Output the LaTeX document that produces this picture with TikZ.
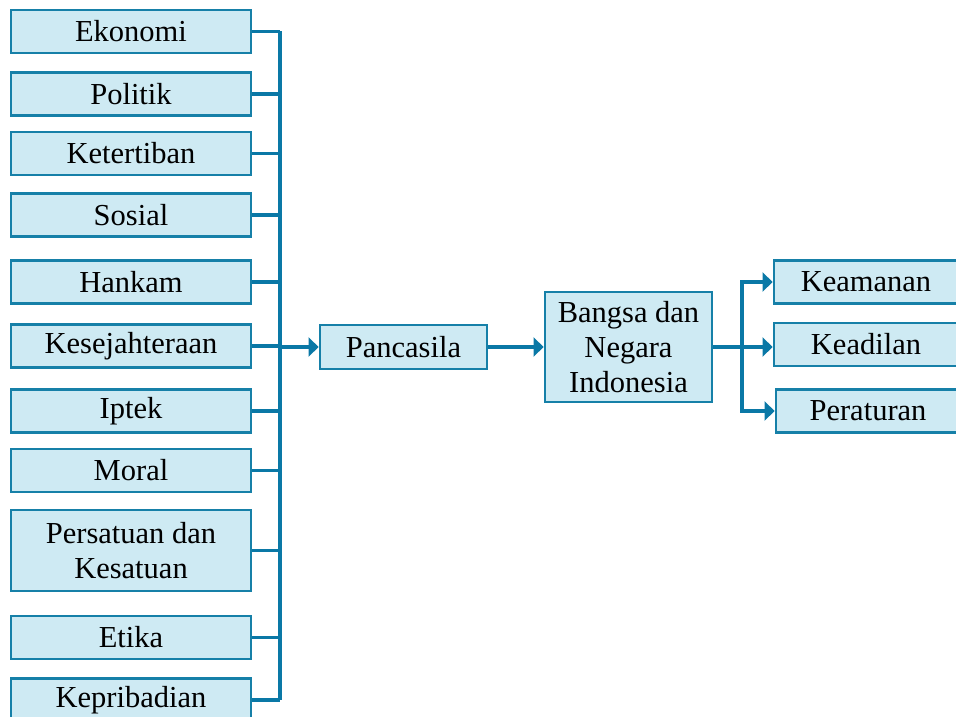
\documentclass[tikz,border=0pt]{standalone}
\usepackage{fontspec}
\setmainfont{Liberation Serif}
\usepackage{tikz}
\usetikzlibrary{arrows.meta}
\definecolor{boxfill}{RGB}{206,234,243}
\definecolor{boxline}{RGB}{22,128,168}
\definecolor{wire}{RGB}{10,120,166}

\begin{document}
\begin{tikzpicture}[x=1pt,y=-1pt,
  box/.style={draw=boxline,fill=boxfill,line width=2.8pt,inner sep=0pt,
    align=center,font=\fontsize{30.5}{35}\selectfont},
  lbox/.style={box,minimum width=240pt,minimum height=43pt},
  rbox/.style={box,minimum width=184pt,minimum height=43pt},
  link/.style={draw=wire,line width=3.5pt},
  tip/.style={link,-{Triangle[length=10pt,width=19pt]}}]
\useasboundingbox (0,0) rectangle (956,717);
\node[lbox] (ekonomi) at (131,31.5) {Ekonomi};
\node[lbox] (politik) at (131,94) {Politik};
\node[lbox] (ketertiban) at (131,153.5) {Ketertiban};
\node[lbox] (sosial) at (131,215) {Sosial};
\node[lbox] (hankam) at (131,282) {Hankam};
\node[lbox] (kesejahteraan) at (131,346) {Kesejahteraan};
\node[lbox] (iptek) at (131,411) {Iptek};
\node[lbox] (moral) at (131,470.5) {Moral};
\node[lbox,minimum height=81pt] (persatuan) at (131,550.5) {Persatuan dan\\Kesatuan};
\node[lbox] (etika) at (131,637.5) {Etika};
\node[lbox] (kepribadian) at (131,700) {Kepribadian};
\node[box,minimum width=167pt,minimum height=44pt] (pancasila) at (403.5,347) {Pancasila};
\node[box,minimum width=167pt,minimum height=110pt] (bangsa) at (628.5,347) {Bangsa dan\\Negara\\Indonesia};
\node[rbox] (keamanan) at (866,282) {Keamanan};
\node[rbox] (keadilan) at (866,344.5) {Keadilan};
\node[rbox] (peraturan) at (868,411) {Peraturan};
\coordinate (bus) at (280,0);
\coordinate (split) at (742,347);
\foreach \n in {ekonomi,politik,ketertiban,sosial,hankam,kesejahteraan,iptek,moral,persatuan,etika,kepribadian}
  \draw[link] (\n.east) -- (\n.east -| bus);
\draw[link] (ekonomi.east -| bus) -- (kepribadian.east -| bus);
\draw[tip] (pancasila.west -| bus) -- (pancasila.west);
\draw[tip] (pancasila.east) -- (bangsa.west);
\draw[link] (bangsa.east) -- (split);
\draw[tip] (split) |- (keamanan.west);
\draw[tip] (split) -- (split -| keadilan.west);
\draw[tip] (split) |- (peraturan.west);
\end{tikzpicture}
\end{document}
